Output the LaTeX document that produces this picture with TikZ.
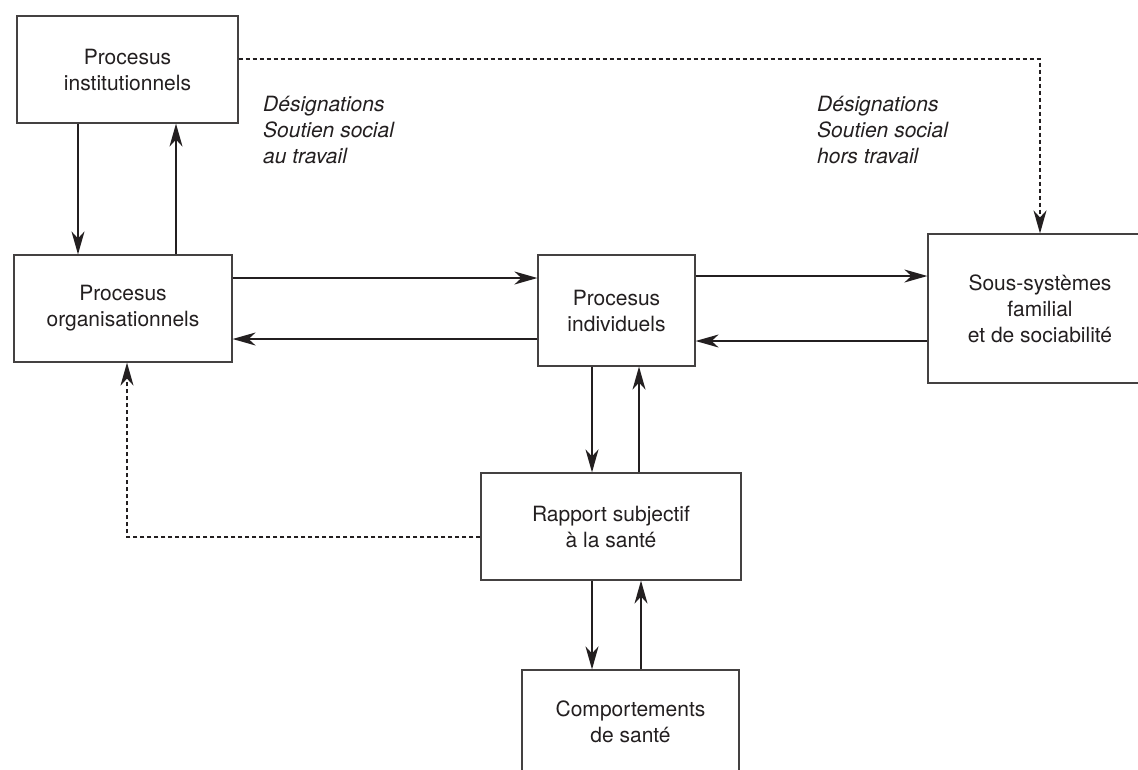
\documentclass[tikz,border=0pt]{standalone}
\usepackage{fontspec}
\setmainfont{TeX Gyre Heros}
\usetikzlibrary{arrows.meta}
\definecolor{ink}{HTML}{231F20}
\tikzset{
  box/.style={draw=ink!85, line width=1.2pt, inner sep=0pt, align=center, text=ink,
    font=\fontsize{21}{26}\selectfont},
  lab/.style={inner sep=0pt, anchor=north west, align=left, text=ink,
    font=\fontsize{21}{26}\selectfont\itshape},
  arr/.style={draw=ink, line width=1.4pt, -{Stealth[length=23pt,width=13pt,inset=7pt]}},
  darr/.style={arr, dash pattern=on 4pt off 3pt, line width=1.3pt}
}
\begin{document}
\begin{tikzpicture}[x=1pt,y=-1pt]
\clip (0,0) rectangle (1138,769);
\fill[white] (0,0) rectangle (1138,769);

\node[box, minimum width=221pt, minimum height=107pt] (inst) at (127.5,69.5) {Procesus\\institutionnels};
\node[box, minimum width=218pt, minimum height=107pt] (org) at (123,308.5) {Procesus\\organisationnels};
\node[box, minimum width=157pt, minimum height=111pt] (ind) at (616.5,310.5) {Procesus\\individuels};
\node[box, minimum width=224pt, minimum height=149pt] (sous) at (1040,308.5) {Sous-systèmes\\familial\\et de sociabilité};
\node[box, minimum width=260pt, minimum height=107pt] (rap) at (611,526.5) {Rapport subjectif\\à la santé};
\node[box, minimum width=217pt, minimum height=104pt] (comp) at (630.5,722) {Comportements\\de santé};

\node[lab] (l1) at (263,96) {Désignations\\Soutien social\\au travail};
\node[lab] (l2) at (817,96) {Désignations\\Soutien social\\hors travail};

\coordinate (c78) at (78,0);
\coordinate (c176) at (176,0);
\coordinate (c592) at (592,0);
\coordinate (c639) at (639,0);
\coordinate (c641) at (641,0);
\coordinate (c127) at (127,0);
\coordinate (c1040) at (1040,0);
\coordinate (r278) at (0,278);
\coordinate (r339) at (0,339);
\coordinate (r276) at (0,276);
\coordinate (r341) at (0,341);
\coordinate (r59) at (0,59);
\coordinate (r537) at (0,537);

\draw[arr] (inst.south -| c78) -- (org.north -| c78);
\draw[arr] (org.north -| c176) -- (inst.south -| c176);
\draw[arr] (org.east |- r278) -- (ind.west |- r278);
\draw[arr] (ind.west |- r339) -- (org.east |- r339);
\draw[arr] (ind.east |- r276) -- (sous.west |- r276);
\draw[arr] (sous.west |- r341) -- (ind.east |- r341);
\draw[arr] (ind.south -| c592) -- (rap.north -| c592);
\draw[arr] (rap.north -| c639) -- (ind.south -| c639);
\draw[arr] (rap.south -| c592) -- (comp.north -| c592);
\draw[arr] (comp.north -| c641) -- (rap.south -| c641);

\coordinate (d1) at (c1040 |- r59);
\coordinate (d2) at (c127 |- r537);
\draw[darr] (inst.east |- r59) -- (d1) -- (sous.north -| c1040);
\draw[darr] (rap.west |- r537) -- (d2) -- (org.south -| c127);
\end{tikzpicture}
\end{document}
